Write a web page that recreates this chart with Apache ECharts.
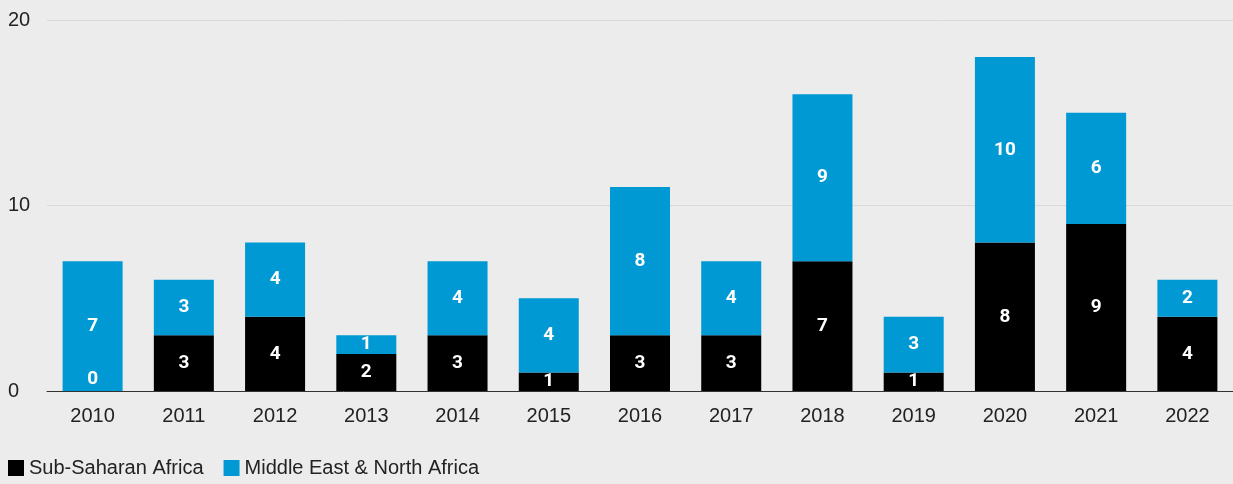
<!DOCTYPE html>
<html>
<head>
<meta charset="utf-8">
<script src="https://cdn.jsdelivr.net/npm/echarts@6/dist/echarts.min.js"></script>
<style>
  html, body { margin: 0; padding: 0; background: #ececec; }
  #chart { width: 1233px; height: 484px; }
</style>
</head>
<body>
<div id="chart"></div>
<script>
const years = ["2010", "2011", "2012", "2013", "2014", "2015", "2016", "2017", "2018", "2019", "2020", "2021", "2022"];
const subSaharan = [0, 3, 4, 2, 3, 1, 3, 3, 7, 1, 8, 9, 4];
const mena = [7, 3, 4, 1, 4, 4, 8, 4, 9, 3, 10, 6, 2];
const yTicks = [0, 10, 20];

const font = "'Liberation Sans', Arial, sans-serif";

const chart = echarts.init(document.getElementById("chart"));

const barLabel = {
  show: true,
  position: "inside",
  color: "#ffffff",
  fontFamily: "Roboto, sans-serif",
  fontWeight: "bold",
  fontSize: 19
};

chart.setOption({
  backgroundColor: "#ececec",
  animation: false,
  grid: { left: 47, right: -3, top: 20, bottom: 93 },
  legend: {
    left: 3,
    bottom: 1,
    icon: "rect",
    itemWidth: 16,
    itemHeight: 16,
    itemGap: 20,
    textStyle: { color: "#222", fontSize: 20, fontFamily: font },
    data: ["Sub-Saharan Africa", "Middle East & North Africa"]
  },
  xAxis: {
    type: "category",
    data: years,
    axisTick: { show: false },
    axisLine: { lineStyle: { color: "#333", width: 1 } },
    axisLabel: { color: "#222", fontSize: 20, fontFamily: font, margin: 15 }
  },
  yAxis: {
    type: "value",
    min: 0,
    max: 20,
    interval: 10,
    axisLabel: {
      color: "#222",
      fontSize: 20,
      fontFamily: font,
      align: "left",
      margin: 39,
      formatter: v => (yTicks.includes(v) ? String(v) : "")
    },
    splitLine: { lineStyle: { color: "#d9d9d9", width: 1 } },
    axisLine: { show: false },
    axisTick: { show: false }
  },
  series: [
    {
      name: "Sub-Saharan Africa",
      type: "bar",
      stack: "total",
      barWidth: 60,
      itemStyle: { color: "#000000" },
      label: barLabel,
      data: subSaharan.map(v => v === 0 ? { value: v, label: { offset: [0, -12] } } : v)
    },
    {
      name: "Middle East & North Africa",
      type: "bar",
      stack: "total",
      barWidth: 60,
      itemStyle: { color: "#0099d3" },
      label: barLabel,
      data: mena
    }
  ]
});
</script>
</body>
</html>
